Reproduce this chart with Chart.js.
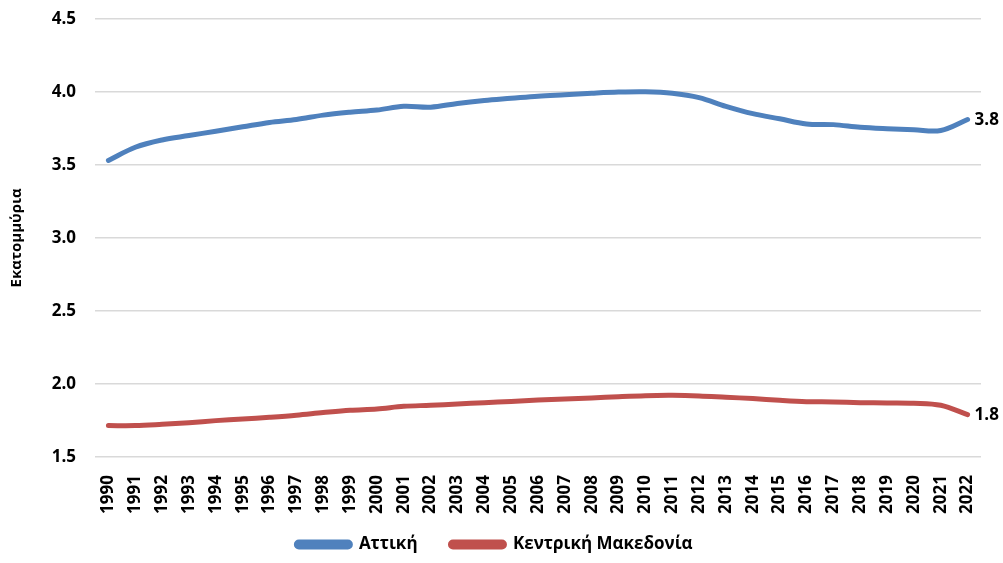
<!DOCTYPE html>
<html>
<head>
<meta charset="utf-8">
<script src="https://cdn.jsdelivr.net/npm/chart.js@4.4.1/dist/chart.umd.min.js"></script>
<style>
html,body{margin:0;padding:0;background:#fff;}
#wrap{width:1003px;height:563px;}
</style>
</head>
<body>
<div id="wrap"><canvas id="c" width="1003" height="563"></canvas></div>
<script>
const years = ['1990','1991','1992','1993','1994','1995','1996','1997','1998','1999','2000','2001','2002','2003','2004','2005','2006','2007','2008','2009','2010','2011','2012','2013','2014','2015','2016','2017','2018','2019','2020','2021','2022'];
const attiki = [3.53,3.62,3.67,3.70,3.73,3.76,3.79,3.81,3.84,3.86,3.875,3.90,3.894,3.92,3.94,3.955,3.97,3.98,3.99,3.998,4.00,3.99,3.96,3.90,3.85,3.815,3.78,3.775,3.757,3.747,3.74,3.735,3.81];
const kentrikiMakedonia = [1.715,1.715,1.724,1.735,1.749,1.76,1.772,1.786,1.804,1.82,1.829,1.847,1.854,1.863,1.872,1.88,1.89,1.897,1.904,1.913,1.92,1.922,1.918,1.909,1.90,1.888,1.879,1.877,1.872,1.87,1.868,1.854,1.79];
const endLabels = ['3.8','1.8'];
const yTicks = [1.5,2.0,2.5,3.0,3.5,4.0,4.5];

const FONT = '"Open Sans", "DejaVu Sans", sans-serif';

const endLabelPlugin = {
  id: 'endLabels',
  afterDatasetsDraw(chart) {
    const ctx = chart.ctx;
    ctx.save();
    ctx.font = 'bold 17px ' + FONT;
    ctx.fillStyle = '#000';
    ctx.textAlign = 'left';
    ctx.textBaseline = 'middle';
    chart.data.datasets.forEach((ds, i) => {
      const meta = chart.getDatasetMeta(i);
      const pt = meta.data[meta.data.length - 1];
      ctx.fillText(endLabels[i], pt.x + 7, pt.y + 1);
    });
    ctx.restore();
  }
};

new Chart(document.getElementById('c'), {
  type: 'line',
  data: {
    labels: years,
    datasets: [
      {label: 'Αττική', data: attiki, borderColor: '#4f81bd', backgroundColor: '#4f81bd', borderWidth: 5, pointRadius: 0, tension: 0.35, borderCapStyle: 'round'},
      {label: 'Κεντρική Μακεδονία', data: kentrikiMakedonia, borderColor: '#c0504d', backgroundColor: '#c0504d', borderWidth: 5, pointRadius: 0, tension: 0.35, borderCapStyle: 'round'}
    ]
  },
  options: {
    responsive: false,
    animation: false,
    devicePixelRatio: 1,
    layout: {padding: {top: 18.7, right: 22, left: 8, bottom: 0}},
    plugins: {
      legend: {
        position: 'bottom',
        labels: {
          font: {family: FONT, size: 17, weight: 'bold'},
          color: '#000',
          boxWidth: 54,
          boxHeight: 5,
          useBorderRadius: true,
          borderRadius: 2.5,
          padding: 2,
          generateLabels(chart) {
            const items = Chart.defaults.plugins.legend.labels.generateLabels(chart);
            if (items.length) items[0].text = items[0].text + '       ';
            return items;
          }
        }
      },
      tooltip: {enabled: false}
    },
    scales: {
      x: {
        offset: true,
        grid: {display: false},
        border: {display: false},
        ticks: {
          font: {family: FONT, size: 17, weight: 'bold'},
          color: '#000',
          maxRotation: 90,
          minRotation: 90,
          autoSkip: false,
          padding: 10
        },
        afterFit(scale) { scale.height = 77; }
      },
      y: {
        min: 1.5,
        max: 4.5,
        afterBuildTicks(scale) { scale.ticks = yTicks.map(v => ({value: v})); },
        grid: {color: '#d9d9d9', lineWidth: 1.5, drawTicks: false},
        border: {display: false},
        ticks: {
          font: {family: FONT, size: 17, weight: 'bold'},
          color: '#000',
          padding: 19,
          callback: v => Number(v).toFixed(1)
        },
        title: {
          display: true,
          text: 'Εκατομμύρια',
          font: {family: FONT, size: 15, weight: 'bold'},
          color: '#000',
          padding: {top: 0, bottom: 12}
        },
        afterFit(scale) {
          scale.width = 87;
          scale.paddingTop = 0;
          scale.paddingBottom = 0;
        }
      }
    }
  },
  plugins: [endLabelPlugin]
});
</script>
</body>
</html>
